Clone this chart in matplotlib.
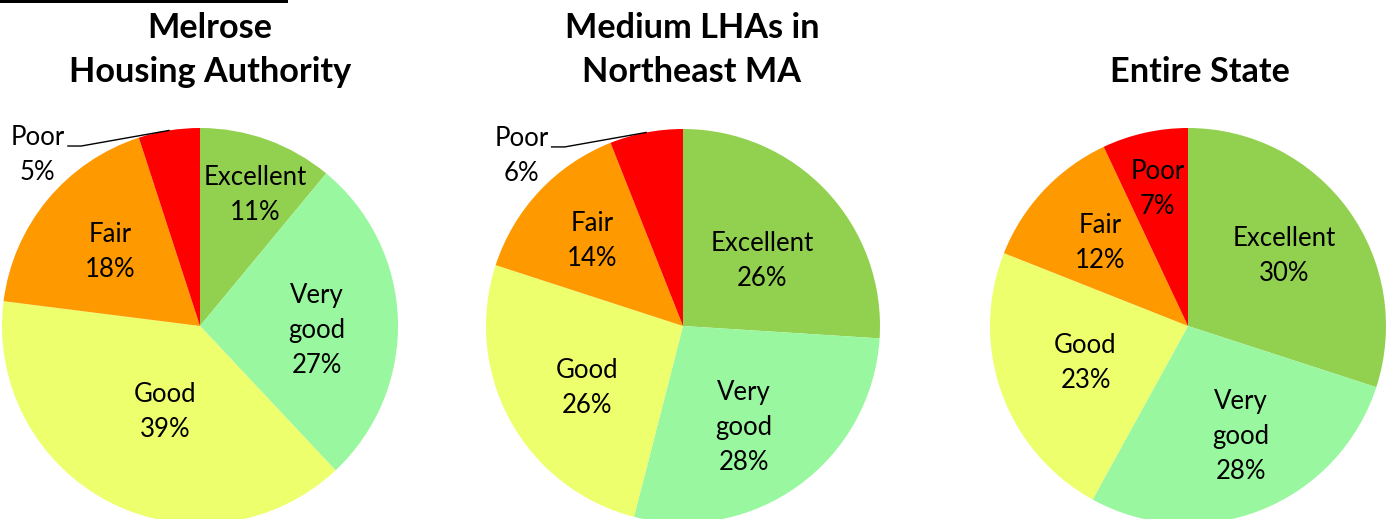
import matplotlib
matplotlib.use("Agg")
import matplotlib.pyplot as plt
from matplotlib.patches import Rectangle
import numpy as np

plt.rcParams['font.family'] = ['Lato', 'DejaVu Sans']

# ---- data ----
categories = ["Excellent", "Very\ngood", "Good", "Fair", "Poor"]
melrose = [11, 27, 39, 18, 5]
medium_ne = [26, 28, 26, 14, 6]
entire_state = [30, 28, 23, 12, 7]
titles = [["Melrose", "Housing Authority"], ["Medium LHAs in", "Northeast MA"], ["Entire State"]]

colors = ["#92D050", "#99F7A0", "#EEFF6E", "#FF9900", "#FF0000"]

# ---- layout (pixels) ----
W, H, DPI = 1388, 519, 100
centers = [(200, 326, 198), (683, 326, 197), (1188, 326, 198)]
title_x = [210, 692, 1200]
label_dist = [[0.72, 0.59, 0.47, 0.59, 0.0],
              [0.52, 0.60, 0.58, 0.63, 0.0],
              [0.60, 0.62, 0.55, 0.61, 0.71]]
label_rot = [[3, 4, -5, 0, 0],
             [4, 5, -4, 0, 0],
             [0, -4, 0, 0, 0]]
outside = [[False, False, False, False, True],
           [False, False, False, False, True],
           [False, False, False, False, False]]

fig = plt.figure(figsize=(W / DPI, H / DPI), dpi=DPI)
fig.patches.append(Rectangle((0, 1 - 3 / H), 288 / W, 3 / H, transform=fig.transFigure,
                             facecolor="black", edgecolor="none"))

for i, vals in enumerate([melrose, medium_ne, entire_state]):
    cx, cy, r = centers[i]
    ax = fig.add_axes([(cx - r) / W, (H - cy - r) / H, 2 * r / W, 2 * r / H])
    ax.pie(vals, colors=colors, startangle=90, counterclock=False, radius=1,
           wedgeprops=dict(linewidth=0))
    ax.set_xlim(-1, 1)
    ax.set_ylim(-1, 1)
    ax.set_aspect('auto')
    ax.axis('off')
    total = float(sum(vals))
    cum = 0.0
    for j, v in enumerate(vals):
        mid = (cum + v / 2) / total * 2 * np.pi
        cum += v
        txt = f"{categories[j]}\n{v}%"
        if outside[i][j]:
            lx, ly = -0.82, 0.865
            ax.text(lx, ly, txt, ha='center', va='center', fontsize=18.5,
                    linespacing=1.5, clip_on=False)
            ex, ey = np.sin(mid), np.cos(mid)
            ax.plot([-0.667, -0.60, ex], [0.909, 0.909, ey], color='black', lw=1,
                    clip_on=False)
        else:
            d = label_dist[i][j]
            a = mid + np.radians(label_rot[i][j])
            ax.text(d * np.sin(a), d * np.cos(a), txt, ha='center', va='center',
                    fontsize=18.5, linespacing=1.5)

    lines = titles[i]
    baselines = [38, 82] if len(lines) == 2 else [82]
    for line, b in zip(lines, baselines):
        fig.text(title_x[i] / W, 1 - b / H, line, ha='center', va='baseline',
                 fontsize=24.7, fontweight='bold')

fig.savefig("out.png", dpi=DPI)
